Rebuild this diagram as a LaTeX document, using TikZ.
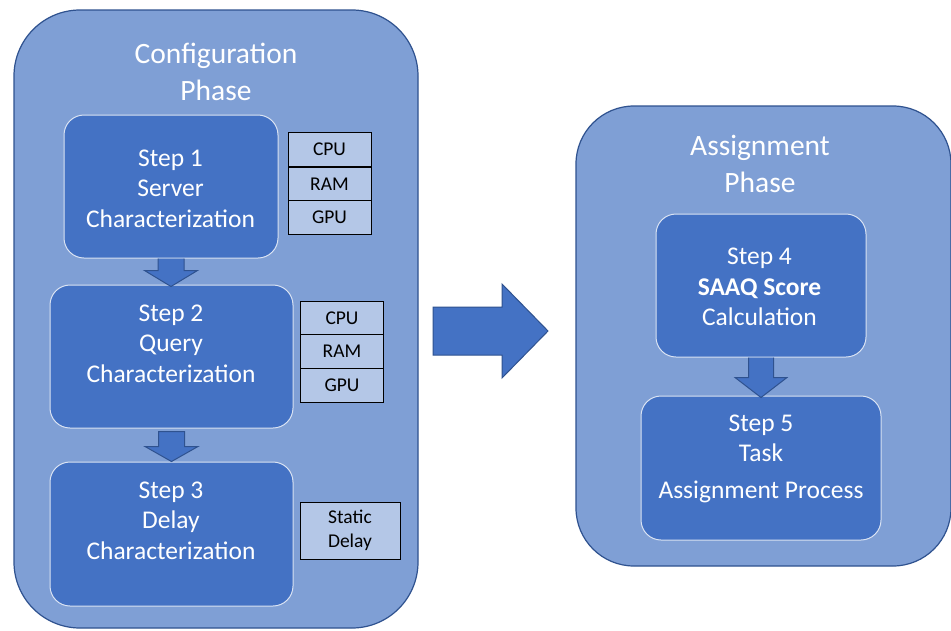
\documentclass[tikz,border=0pt]{standalone}
\usepackage{fontspec}
\setmainfont{Carlito}
\usetikzlibrary{calc}
\definecolor{phasefill}{HTML}{7F9FD5}
\definecolor{phaseline}{HTML}{2F528F}
\definecolor{stepfill}{HTML}{4472C4}
\definecolor{stepline}{HTML}{DAE3F3}
\definecolor{tabfill}{HTML}{B4C7E7}
\tikzset{
  phasebox/.style={draw=phaseline, fill=phasefill, line width=1.2pt, rounded corners=66pt, inner sep=0pt},
  stepbox/.style={draw=stepline, fill=stepfill, line width=1pt, rounded corners=20pt, inner sep=0pt},
  titletext/.style={text=white, align=center, font=\fontsize{29.5}{37}\selectfont, inner sep=0pt},
  steptext/.style={text=white, align=center, font=\fontsize{25.5}{30.5}\selectfont, inner sep=0pt},
  cell/.style={draw=black, fill=tabfill, line width=1pt, minimum width=83pt, inner sep=0pt, font=\fontsize{19.5}{23}\selectfont},
  blockarrow/.style={draw=phaseline, fill=stepfill, line width=1pt, line join=miter},
}
\begin{document}
\begin{tikzpicture}[x=1pt,y=-1pt]
\useasboundingbox[fill=white] (0,0) rectangle (951,630);
% phases
\node[phasebox, minimum width=404pt, minimum height=618pt] (c1) at (216,319) {};
\node[phasebox, minimum width=375pt, minimum height=460pt, rounded corners=58pt] (c2) at (763.5,336) {};
\node[titletext] (c1t) at (216,71.5) {Configuration\\Phase};
\node[titletext] (c2t) at (760,163.5) {Assignment\\Phase};
% steps
\node[stepbox, minimum width=214pt, minimum height=143pt] (s1) at (171,186.5) {};
\node[stepbox, minimum width=243pt, minimum height=143pt] (s2) at (171.5,356.5) {};
\node[stepbox, minimum width=243pt, minimum height=144pt] (s3) at (171.5,534) {};
\node[stepbox, minimum width=210pt, minimum height=143pt] (s4) at (761,285.5) {};
\node[stepbox, minimum width=240pt, minimum height=144pt] (s5) at (761,468) {};
\node[steptext] (s1t) at (170.5,188.5) {Step 1\\Server\\Characterization};
\node[steptext] (s2t) at (171,343.5) {Step 2\\Query\\Characterization};
\node[steptext] (s3t) at (171,520.5) {Step 3\\Delay\\Characterization};
\node[steptext] (s4t) at (759.5,287) {Step 4\\\textbf{SAAQ Score}\\Calculation};
\node[steptext] (s5t) at (761,458.5) {Step 5\\Task\\[6pt]Assignment Process};
% tables
\node[cell, minimum height=34.5pt] (cpu1) at (329.5,149.5) {CPU};
\node[cell, minimum height=34pt] (ram1) at (329.5,184) {RAM};
\node[cell, minimum height=33.5pt] (gpu1) at (329.5,217.5) {GPU};
\node[cell, minimum height=34pt] (cpu2) at (342,318) {CPU};
\node[cell, minimum height=34pt] (ram2) at (342,351.5) {RAM};
\node[cell, minimum height=34pt] (gpu2) at (342,385) {GPU};
\node[cell, minimum width=100pt, minimum height=57pt, align=center, font=\fontsize{19.5}{24}\selectfont] (sd) at (350,530.5) {Static\\Delay};
% small arrows
\coordinate (t1) at ($(s1.south |- s2.north)+(0,2)$);
\draw[blockarrow] ($(s1.south)+(-13,0)$) -- ($(t1)+(-13,-16)$) -- ($(t1)+(-26.5,-16)$) -- (t1)
  -- ($(t1)+(26.5,-16)$) -- ($(t1)+(13,-16)$) -- ($(s1.south)+(13,0)$);
\coordinate (t2) at (s2.south |- s3.north);
\draw[blockarrow] ($(s2.south)+(-13,3)$) -- ($(t2)+(-13,-15)$) -- ($(t2)+(-26.5,-15)$) -- (t2)
  -- ($(t2)+(26.5,-15)$) -- ($(t2)+(13,-15)$) -- ($(s2.south)+(13,3)$) -- cycle;
\coordinate (t3) at ($(s4.south |- s5.north)+(0,2)$);
\draw[blockarrow] ($(s4.south)+(-12.5,0)$) -- ($(t3)+(-12.5,-20)$) -- ($(t3)+(-26,-20)$) -- (t3)
  -- ($(t3)+(26,-20)$) -- ($(t3)+(12.5,-20)$) -- ($(s4.south)+(12.5,0)$);
% big arrow
\coordinate (bs) at (433,331);
\coordinate (be) at (548,331);
\draw[blockarrow] ($(bs)+(0,-24)$) -- ($(be)+(-46,-24)$) -- ($(be)+(-46,-47)$) -- (be)
  -- ($(be)+(-46,47)$) -- ($(be)+(-46,24)$) -- ($(bs)+(0,24)$) -- cycle;
\end{tikzpicture}
\end{document}
